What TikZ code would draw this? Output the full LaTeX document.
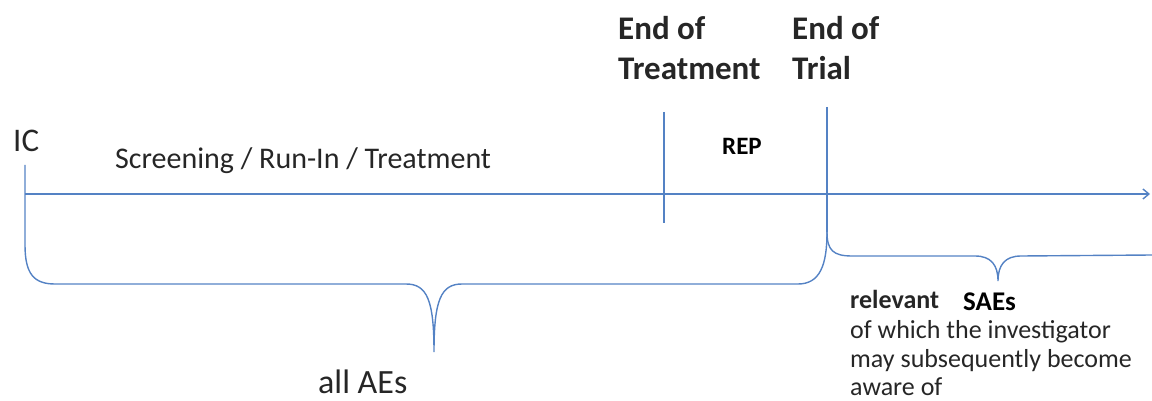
\documentclass[tikz,border=0pt]{standalone}
\usepackage{fontspec}
\setmainfont{Carlito}
\usetikzlibrary{arrows.meta}
\definecolor{axisblue}{RGB}{84,130,196}
\tikzset{
  tl/.style={draw=axisblue, line width=1.4pt},
  txt/.style={inner sep=0pt, anchor=base west, text=black!85},
}
\begin{document}
\begin{tikzpicture}[x=1pt,y=-1pt]
\useasboundingbox (0,0) rectangle (1152,401);
% texts
\node[txt, font=\fontsize{33}{40}\selectfont] (ic) at (13,152) {IC};
\node[txt, font=\fontsize{30}{36}\selectfont] (scr) at (115,169) {Screening / Run-In / Treatment};
\node[txt, font=\bfseries\fontsize{33}{40}\selectfont] (eot1) at (618,40) {End of};
\node[txt, font=\bfseries\fontsize{33}{40}\selectfont] (eot2) at (618,80) {Treatment};
\node[txt, font=\bfseries\fontsize{33}{40}\selectfont] (etr1) at (792,40) {End of};
\node[txt, font=\bfseries\fontsize{33}{40}\selectfont] (etr2) at (792,80) {Trial};
\node[txt, text=black, font=\bfseries\fontsize{25}{30}\selectfont] (rep) at (722,155) {REP};
\node[txt, font=\fontsize{34}{40}\selectfont] (aes) at (318,393) {all AEs};
\node[txt, font=\bfseries\fontsize{26}{31}\selectfont] (rel) at (850,308) {relevant};
\node[txt, text=black, font=\bfseries\fontsize{27}{32}\selectfont] (saes) at (963,310) {SAEs};
\node[txt, font=\fontsize{26}{31}\selectfont] (l1) at (850,338) {of which the investigator};
\node[txt, font=\fontsize{26}{31}\selectfont] (l2) at (850,367) {may subsequently become};
\node[txt, font=\fontsize{26}{31}\selectfont] (l3) at (850,395) {aware of};
% coordinates
\coordinate (a0) at (25,194);
\coordinate (a1) at (1150,194);
\coordinate (t0top) at (25,165);
\coordinate (t1top) at (664,112);
\coordinate (t1bot) at (664,223);
\coordinate (t2top) at (827,107);
\coordinate (t2bot) at (827,232);
\coordinate (tip1) at (434,352);
\coordinate (tip2) at (998,281);
\coordinate (rend) at (1152,255);
% axis
\draw[tl, -{Straight Barb[length=6pt,width=10pt]}] (a0) -- (a1);
% ticks
\draw[tl] (t1top) -- (t1bot);
\draw[tl] (t2top) -- (t2bot);
% big brace
\draw[tl] (t0top) -- (25,245) .. controls (25,274) and (34,284) .. (55,284)
  -- (406,284) .. controls (427,284) and (434,300) .. (tip1)
  .. controls (434,300) and (441,284) .. (462,284)
  -- (798,284) .. controls (820,284) and (827,265) .. (t2bot);
% small brace
\draw[tl] (t2bot) .. controls (827,250) and (833,256) .. (852,256)
  -- (975,256) .. controls (991,256) and (998,265) .. (tip2)
  .. controls (998,265) and (1005,256) .. (1021,256) -- (rend);
\end{tikzpicture}
\end{document}
